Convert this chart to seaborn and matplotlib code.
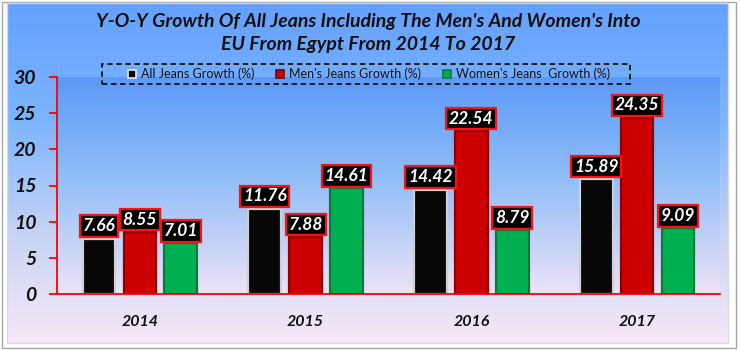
import numpy as np
import pandas as pd
import matplotlib
matplotlib.use("Agg")
import matplotlib.pyplot as plt
from matplotlib.colors import LinearSegmentedColormap
from matplotlib.patches import Rectangle, Patch
import seaborn as sns

years = ["2014", "2015", "2016", "2017"]
series = ["All Jeans Growth (%)", "Men's Jeans Growth (%)", "Women's Jeans  Growth (%)"]
all_jeans = [7.66, 11.76, 14.42, 15.89]
mens_jeans = [8.55, 7.88, 22.54, 24.35]
womens_jeans = [7.01, 14.61, 8.79, 9.09]

fill_colors = ["#070707", "#cc0000", "#00b050"]
edge_colors = ["#cfcfcf", "#8e0000", "#0b7a3a"]

df = pd.DataFrame({
    "Year": years * 3,
    "Series": [s for s in series for _ in years],
    "Growth": all_jeans + mens_jeans + womens_jeans,
})

plt.rcParams["font.family"] = ["Lato", "DejaVu Sans"]

W, H = 740, 350
fig = plt.figure(figsize=(W / 100, H / 100), dpi=100)
fig.patch.set_facecolor("white")


def px_rect(x0, y0, x1, y1):
    """Figure-fraction rectangle from pixel corners (origin top-left)."""
    return [x0 / W, 1 - y1 / H, (x1 - x0) / W, (y1 - y0) / H]


# outer image frame
fig.patches.append(Rectangle((2 / W, 1 - 348 / H), 734 / W, 346 / H,
                             transform=fig.transFigure, fill=False,
                             ec="#a6a6a6", lw=1.0, zorder=0))

# chart area with vertical gradient
bg_cmap = LinearSegmentedColormap.from_list(
    "chartbg",
    [(0.0, (0.39, 0.63, 1.0)), (0.35, (0.49, 0.71, 0.99)),
     (0.68, (0.78, 0.83, 0.96)), (1.0, (0.97, 0.91, 0.965))])
bg_ax = fig.add_axes(px_rect(7, 3, 728, 343), zorder=0)
bg_ax.imshow(np.linspace(0, 1, 256)[:, None], aspect="auto", cmap=bg_cmap,
             extent=[0, 1, 0, 1], origin="upper")
bg_ax.set_axis_off()
fig.patches.append(Rectangle((7 / W, 1 - 343 / H), 721 / W, 340 / H,
                             transform=fig.transFigure, fill=False,
                             ec="#d8d8e0", lw=1.0, zorder=1))

# plotting area
ax = fig.add_axes(px_rect(57, 77, 720, 294), zorder=2)
ax.set_facecolor("none")
pa_cmap = LinearSegmentedColormap.from_list(
    "plotbg",
    [(0.0, (0.36, 0.60, 0.97)), (0.45, (0.56, 0.74, 0.97)),
     (1.0, (0.93, 0.89, 0.965))])
ax.imshow(np.linspace(0, 1, 256)[:, None], aspect="auto", cmap=pa_cmap,
          extent=[0, 1, 0, 1], origin="upper", transform=ax.transAxes,
          zorder=0)

sns.barplot(data=df, x="Year", y="Growth", hue="Series", hue_order=series,
            order=years, palette=fill_colors, saturation=1, width=0.74,
            gap=0.2, errorbar=None, legend=False, ax=ax, zorder=3)

for cont, ec in zip(ax.containers, edge_colors):
    for bar in cont:
        bar.set_edgecolor(ec)
        bar.set_linewidth(1.6)

# value labels in black boxes with red border
for cont in ax.containers:
    for bar in cont:
        v = bar.get_height()
        ax.annotate(f"{v:.2f}", xy=(bar.get_x() + bar.get_width() / 2, v),
                    xytext=(0, 3.2), textcoords="offset points",
                    ha="center", va="bottom", color="white",
                    fontsize=12.5, fontweight="bold", fontstyle="italic",
                    zorder=5,
                    bbox=dict(boxstyle="square,pad=0.16", fc="black",
                              ec="#ff1010", lw=1.6))

ax.set_xlim(-0.5, 3.5)
ax.set_ylim(0, 30)
ax.set_yticks(range(0, 31, 5))
ax.set_xlabel("")
ax.set_ylabel("")
for s in ["top", "right"]:
    ax.spines[s].set_visible(False)
for s in ["left", "bottom"]:
    ax.spines[s].set_color("#ff0000")
    ax.spines[s].set_linewidth(1.3)
    ax.spines[s].set_zorder(6)
ax.tick_params(axis="y", colors="#ff0000", length=6, width=1.3, pad=9,
               labelcolor="#111111", labelsize=14)
ax.tick_params(axis="x", length=0, pad=15, labelcolor="#111111",
               labelsize=11.5)
for lab in ax.get_yticklabels() + ax.get_xticklabels():
    lab.set_fontweight("bold")
    lab.set_fontstyle("italic")

fig.text(368 / W, 1 - 33 / H,
         "Y-O-Y Growth Of All Jeans Including The Men's And Women's Into\n"
         "EU From Egypt From 2014 To 2017",
         ha="center", va="center", fontsize=14, fontweight="bold",
         fontstyle="italic", color="#111111", linespacing=1.45, zorder=4)

# legend entries spread across a dashed box
handles = [Patch(fc=fc, ec=ec, lw=1.2) for fc, ec in
           zip(fill_colors, ["#e8e8e8", "#7a0000", "#0b7a3a"])]
leg = fig.legend(handles, series, ncol=3, loc="center",
                 bbox_to_anchor=px_rect(125, 64, 613, 84), mode="expand",
                 fontsize=9, handlelength=0.65, handleheight=0.65,
                 handletextpad=0.4, borderaxespad=0, borderpad=0.2,
                 frameon=False)
for t in leg.get_texts():
    t.set_color("#111111")
leg.set_zorder(4)
fig.patches.append(Rectangle((102 / W, 1 - 84 / H), 528 / W, 20 / H,
                             transform=fig.transFigure, fill=False,
                             ec="#111111", lw=1.3, ls=(0, (3, 2)),
                             zorder=4))

fig.savefig("out.png", dpi=100)
